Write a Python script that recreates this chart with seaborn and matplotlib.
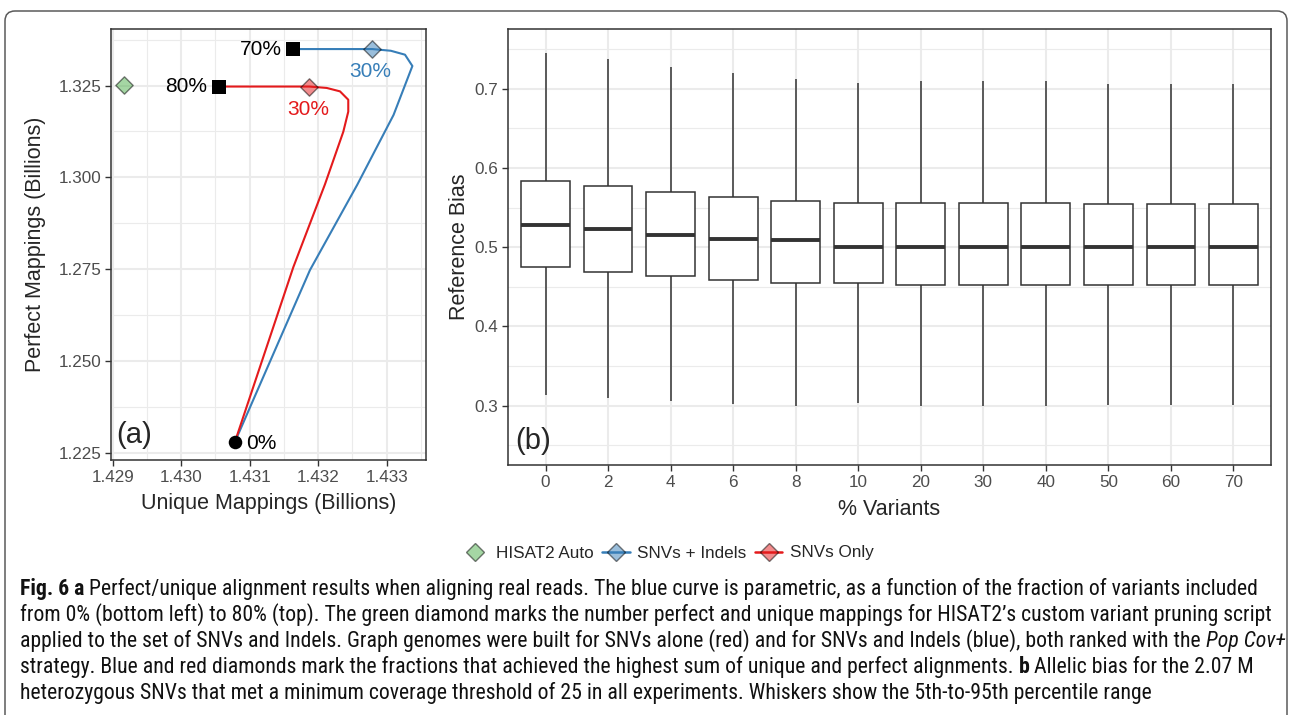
import matplotlib
matplotlib.use("Agg")
import pandas as pd
import seaborn as sns
import matplotlib.pyplot as plt
from matplotlib import font_manager
from matplotlib.colors import to_rgba
from matplotlib.lines import Line2D
from matplotlib.patches import FancyBboxPatch
from matplotlib.transforms import IdentityTransform
from matplotlib.ticker import FixedLocator, FormatStrFormatter

# ---- panel (a): perfect vs unique mappings (billions), parametric in % variants
snv_indel_unique = [1.430785, 1.431880, 1.432570, 1.433100, 1.433375, 1.433267, 1.433060, 1.432790, 1.431637]
snv_indel_perfect = [1.22807, 1.27480, 1.29800, 1.31700, 1.33032, 1.33340, 1.33447, 1.33493, 1.33493]
snv_unique = [1.430785, 1.431637, 1.432099, 1.432366, 1.432439, 1.432439, 1.432318, 1.432124, 1.431870, 1.430556]
snv_perfect = [1.22807, 1.27559, 1.29814, 1.31240, 1.31790, 1.32114, 1.32342, 1.32435, 1.32473, 1.32473]
hisat_unique = [1.42917]
hisat_perfect = [1.3251]
best_indel = (1.432790, 1.33493)   # 30%
best_snv = (1.431870, 1.32473)     # 30%
start_pt = (1.430785, 1.22807)     # 0%
end_indel = (1.431637, 1.33493)    # 70%
end_snv = (1.430556, 1.32473)      # 80%
a_xticks = [1.429, 1.430, 1.431, 1.432, 1.433]
a_yticks = [1.225, 1.250, 1.275, 1.300, 1.325]

# ---- panel (b): reference bias per % variants (5th, 25th, 50th, 75th, 95th pct)
pct_variants = ["0", "2", "4", "6", "8", "10", "20", "30", "40", "50", "60", "70"]
bias_p5 = [0.3137, 0.3093, 0.3060, 0.3026, 0.3000, 0.3030, 0.3000, 0.3000, 0.3000, 0.3013, 0.3013, 0.3013]
bias_q1 = [0.4749, 0.4693, 0.4634, 0.4587, 0.4549, 0.4549, 0.4527, 0.4527, 0.4527, 0.4527, 0.4527, 0.4527]
bias_med = [0.5281, 0.5230, 0.5150, 0.5102, 0.5086, 0.5000, 0.5000, 0.5000, 0.5000, 0.5000, 0.5000, 0.5000]
bias_q3 = [0.5836, 0.5776, 0.5696, 0.5632, 0.5580, 0.5559, 0.5559, 0.5559, 0.5559, 0.5542, 0.5542, 0.5542]
bias_p95 = [0.7455, 0.7379, 0.7269, 0.7197, 0.7128, 0.7077, 0.7098, 0.7098, 0.7098, 0.7060, 0.7060, 0.7060]

BLUE, RED, GREEN = "#377EB8", "#E41A1C", "#4DAF4A"
DARK = "#333333"
GRID = "#EBEBEB"

sns.set_theme(style="white")
plt.rcParams["font.family"] = ["Liberation Sans", "DejaVu Sans"]

fig = plt.figure(figsize=(12.89, 7.15), dpi=100)


def style_axes(ax):
    for s in ax.spines.values():
        s.set_color(DARK)
        s.set_linewidth(1.1)
    ax.tick_params(which="major", length=4, width=1, color=DARK, labelsize=12.3,
                   labelcolor="#4D4D4D", pad=3, bottom=True, left=True)
    ax.tick_params(which="minor", length=0)
    ax.grid(which="major", color=GRID, lw=1.5)
    ax.grid(which="minor", color=GRID, lw=0.8)
    ax.set_axisbelow(True)


# ---------------- panel (a)
ax_a = fig.add_axes([0.0859, 0.3569, 0.2446, 0.6029])
sns.lineplot(x=snv_indel_unique, y=snv_indel_perfect, sort=False, estimator=None,
             color=BLUE, lw=1.5, ax=ax_a, zorder=2)
sns.lineplot(x=snv_unique, y=snv_perfect, sort=False, estimator=None,
             color=RED, lw=1.5, ax=ax_a, zorder=2)
sns.scatterplot(x=hisat_unique, y=hisat_perfect, marker="D", s=78, color=GREEN,
                alpha=0.5, edgecolor="black", linewidth=1, ax=ax_a, zorder=4)
sns.scatterplot(x=[best_indel[0]], y=[best_indel[1]], marker="D", s=78, color=BLUE,
                alpha=0.5, edgecolor="black", linewidth=1, ax=ax_a, zorder=4)
sns.scatterplot(x=[best_snv[0]], y=[best_snv[1]], marker="D", s=78, color=RED,
                alpha=0.5, edgecolor="black", linewidth=1, ax=ax_a, zorder=4)
sns.scatterplot(x=[end_indel[0], end_snv[0]], y=[end_indel[1], end_snv[1]], marker="s",
                s=90, color="black", linewidth=0, ax=ax_a, zorder=4)
sns.scatterplot(x=[start_pt[0]], y=[start_pt[1]], marker="o", s=95, color="black",
                linewidth=0, ax=ax_a, zorder=4)

lab = dict(textcoords="offset points", fontsize=15, va="center")
ax_a.annotate("70%", end_indel, xytext=(-8, 0), ha="right", color="black", **lab)
ax_a.annotate("80%", end_snv, xytext=(-8.5, 0), ha="right", color="black", **lab)
ax_a.annotate("30%", best_indel, xytext=(-1.3, -16.5), ha="center", color=BLUE, **lab)
ax_a.annotate("30%", best_snv, xytext=(-1, -16.4), ha="center", color=RED, **lab)
ax_a.annotate("0%", start_pt, xytext=(8.2, -1), ha="left", color="black", **lab)
ax_a.text(0.019, 0.058, "(a)", transform=ax_a.transAxes, fontsize=21, va="center", ha="left")

ax_a.set_xlim(1.428971, 1.433574)
ax_a.set_ylim(1.22315, 1.34046)
ax_a.xaxis.set_major_locator(FixedLocator(a_xticks))
ax_a.yaxis.set_major_locator(FixedLocator(a_yticks))
ax_a.xaxis.set_minor_locator(FixedLocator([t + 0.0005 for t in [1.428] + a_xticks]))
ax_a.yaxis.set_minor_locator(FixedLocator([t + 0.0125 for t in [1.200] + a_yticks]))
ax_a.xaxis.set_major_formatter(FormatStrFormatter("%.3f"))
ax_a.yaxis.set_major_formatter(FormatStrFormatter("%.3f"))
style_axes(ax_a)
ax_a.set_xlabel("Unique Mappings (Billions)", fontsize=15.5, labelpad=6)
ax_a.set_ylabel("Perfect Mappings (Billions)", fontsize=15.5, labelpad=9)

# ---------------- panel (b)
rows = []
for i, p in enumerate(pct_variants):
    for v in (bias_p5[i], bias_q1[i], bias_med[i], bias_q3[i], bias_p95[i]):
        rows.append({"pct": p, "bias": v})
df_b = pd.DataFrame(rows)

ax_b = fig.add_axes([0.3941, 0.3499, 0.5919, 0.6099])
sns.boxplot(data=df_b, x="pct", y="bias", order=pct_variants, whis=(0, 100),
            width=0.78, color="white", linecolor=DARK, linewidth=1.1,
            medianprops=dict(linewidth=2.8, color=DARK), showcaps=False,
            fliersize=0, ax=ax_b)
ax_b.text(0.009, 0.055, "(b)", transform=ax_b.transAxes, fontsize=21, va="center", ha="left")
ax_b.set_xlim(-0.6, 11.6)
ax_b.set_ylim(0.2254, 0.7756)
ax_b.yaxis.set_major_locator(FixedLocator([0.3, 0.4, 0.5, 0.6, 0.7]))
ax_b.yaxis.set_minor_locator(FixedLocator([0.25, 0.35, 0.45, 0.55, 0.65, 0.75]))
ax_b.yaxis.set_major_formatter(FormatStrFormatter("%.1f"))
style_axes(ax_b)
ax_b.set_xlabel("% Variants", fontsize=15.5, labelpad=7)
ax_b.set_ylabel("Reference Bias", fontsize=15.5, labelpad=3)

# ---------------- shared legend
dk = (0, 0, 0, 0.5)
handles = [
    Line2D([], [], ls="none", marker="D", ms=9.5, mfc=to_rgba(GREEN, 0.5), mec=dk, mew=1),
    Line2D([], [], color=BLUE, lw=1.8, marker="D", ms=9.5, mfc=to_rgba(BLUE, 0.5), mec=dk, mew=1),
    Line2D([], [], color=RED, lw=1.8, marker="D", ms=9.5, mfc=to_rgba(RED, 0.5), mec=dk, mew=1),
]
fig.legend(handles, ["HISAT2 Auto", "SNVs + Indels", "SNVs Only"], loc="center",
           bbox_to_anchor=(667.5 / 1289, 1 - 553 / 715), ncol=3, frameon=False,
           fontsize=12.3, handlelength=1.6, handletextpad=0.45, columnspacing=0.5)

# ---------------- caption (segments: text, weight, style)
names = {f.name for f in font_manager.fontManager.ttflist}
cap_family = next((n for n in ["Liberation Sans Narrow", "Roboto Condensed", "Open Sans Condensed"]
                   if n in names), "Lato")
cap_fam = [cap_family, "DejaVu Sans"]
N, B, I = ("normal", "normal"), ("bold", "normal"), ("normal", "italic")
caption = [
    [("Fig. 6 a", B), ("Perfect/unique alignment results when aligning real reads. The blue curve is parametric, as a function of the fraction of variants included", N)],
    [("from 0% (bottom left) to 80% (top). The green diamond marks the number perfect and unique mappings for HISAT2\u2019s custom variant pruning script", N)],
    [("applied to the set of SNVs and Indels. Graph genomes were built for SNVs alone (red) and for SNVs and Indels (blue), both ranked with the", N), ("Pop Cov+", I)],
    [("strategy. Blue and red diamonds mark the fractions that achieved the highest sum of unique and perfect alignments.", N), ("b", B), ("Allelic bias for the 2.07 M", N)],
    [("heterozygous SNVs that met a minimum coverage threshold of 25 in all experiments. Whiskers show the 5th-to-95th percentile range", N)],
]
renderer = fig.canvas.get_renderer()


def text_width(s, fmt, size):
    t = fig.text(0, 0, s, family=cap_fam, fontsize=size, weight=fmt[0], style=fmt[1])
    w = t.get_window_extent(renderer).width
    t.remove()
    return w


def line_width(segs, size):
    gap = text_width("x x", N, size) - text_width("xx", N, size)
    return sum(text_width(s, f, size) for s, f in segs) + gap * (len(segs) - 1)


cap_size = 12 * 1265 / max(line_width(segs, 12) for segs in caption)
gap = text_width("x x", N, cap_size) - text_width("xx", N, cap_size)
for i, segs in enumerate(caption):
    x = 20.0
    y = 715 - (595.3 + 26 * i)
    for s, f in segs:
        t = fig.text(x / 1289, y / 715, s, family=cap_fam, fontsize=cap_size, weight=f[0],
                     style=f[1], va="baseline", ha="left", color="#111111")
        x += t.get_window_extent(renderer).width + gap

# ---------------- rounded frame
frame = FancyBboxPatch((5, -30), 1282, 715 - 11 + 30, boxstyle="round,pad=0,rounding_size=10",
                       transform=IdentityTransform(), fill=False, ec="#5A5A5A", lw=1.1)
fig.add_artist(frame)

fig.savefig("out.png", dpi=100)
